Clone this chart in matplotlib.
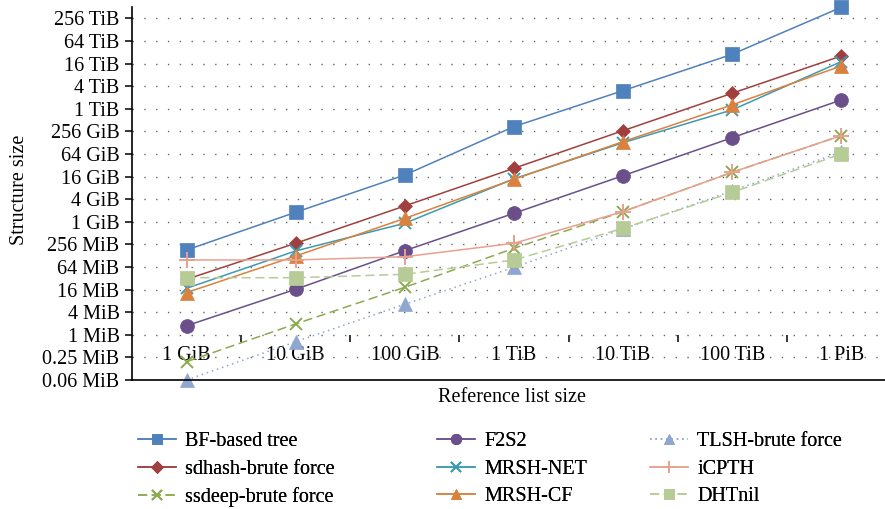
import numpy as np
import matplotlib
matplotlib.use('Agg')
from matplotlib import pyplot as plt
from matplotlib.ticker import FixedLocator, FixedFormatter

plt.rcParams['font.family'] = ['Liberation Serif', 'DejaVu Serif']
plt.rcParams['font.size'] = 14.5

# reference list sizes (categories)
sizes = ['1 GiB', '10 GiB', '100 GiB', '1 TiB', '10 TiB', '100 TiB', '1 PiB']

# structure size in MiB
bf_tree = [181, 1833, 18060, 350700, 3.18e6, 2.96e7, 5.29e8]
sdhash = [30.1, 274, 2702, 27180, 273300, 2.71e6, 2.67e7]
ssdeep = [0.192, 1.95, 18.4, 201, 1911, 21320, 201500]
f2s2 = [1.74, 16.3, 174, 1722, 17300, 177800, 1.8e6]
mrsh_net = [17.3, 171, 936, 14260, 131072, 978000, 1.89e7]
mrsh_cf = [13.3, 125.4, 1261, 13870, 139500, 1.33e6, 1.45e7]
tlsh = [0.0625, 0.655, 6.5, 62.7, 657, 6790, 74300]
icpth = [98.4, 98.4, 120, 274, 1911, 21320, 201500]
dhtnil = [33.1, 33.1, 40.8, 98.4, 685, 6208, 65536]

ytick_labels = ['0.06 MiB', '0.25 MiB', '1 MiB', '4 MiB', '16 MiB', '64 MiB', '256 MiB',
                '1 GiB', '4 GiB', '16 GiB', '64 GiB', '256 GiB',
                '1 TiB', '4 TiB', '16 TiB', '64 TiB', '256 TiB']

series = [
    ('BF-based tree', bf_tree, '#4F81BD', 's', '-', 9.5),
    ('sdhash-brute force', sdhash, '#A0403E', 'D', '-', 7.5),
    ('ssdeep-brute force', ssdeep, '#8CAA50', 'x', (0, (6, 3)), 9),
    ('F2S2', f2s2, '#6A4F8B', 'o', '-', 10),
    ('MRSH-NET', mrsh_net, '#3E9AB0', 'x', '-', 9),
    ('MRSH-CF', mrsh_cf, '#D9813D', '^', '-', 10),
    ('TLSH-brute force', tlsh, '#8EA6D0', '^', (0, (1, 2.5)), 10),
    ('iCPTH', icpth, '#E8A090', '+', '-', 12),
    ('DHTnil', dhtnil, '#B6CB96', 's', (0, (6, 3)), 10),
]

fig = plt.figure(figsize=(8.85, 5.09), dpi=100)
ax = fig.add_axes([132 / 885, (509 - 380) / 509, 753 / 885, 373 / 509])

x = np.arange(len(sizes))
handles = []
for name, vals, col, mk, ls, ms in series:
    h, = ax.plot(x, vals, color=col, marker=mk, linestyle=ls, lw=1.1, markersize=ms,
                 markeredgewidth=1.4 if mk in ('x', '+') else 0.5,
                 markeredgecolor=col, label=name, clip_on=False)
    handles.append(h)

ax.set_yscale('log', base=2)
ax.set_ylim(2 ** -4, 2 ** 29)
yticks = [2.0 ** k for k in range(-4, 29, 2)]
ax.yaxis.set_major_locator(FixedLocator(yticks))
ax.yaxis.set_major_formatter(FixedFormatter(ytick_labels))
ax.yaxis.set_minor_locator(FixedLocator([]))
ax.tick_params(axis='y', direction='out', length=5, width=1.1, pad=4)
ax.yaxis.grid(True, color='#666666', lw=1.0, linestyle=(0, (1, 7.5)))

ax.set_xlim(-0.5, 6.4)
ax.set_xticks(x)
ax.set_xticklabels(sizes)
ax.set_xticks(x[:-1] + 0.5, minor=True)
ax.tick_params(axis='x', which='major', length=0, pad=8)
ax.tick_params(axis='x', which='minor', direction='out', length=5, width=1.1)

# horizontal axis crosses at 1 MiB, line itself hidden
ax.spines['bottom'].set_position(('data', 1))
ax.spines['bottom'].set_color('none')
ax.spines['top'].set_visible(False)
ax.spines['right'].set_visible(False)
ax.spines['left'].set_linewidth(1.2)
ax.axhline(2 ** -4, color='black', lw=1.2, clip_on=False, zorder=5)

fig.text(20 / 885, 1 - 190 / 509, 'Structure size', rotation=90, ha='center', va='center')
fig.text(512 / 885, 1 - 398 / 509, 'Reference list size', ha='center', va='center')

# three legend columns placed like the original
col_x = [138, 437, 650]
for i, cx in enumerate(col_x):
    leg = fig.legend(handles=handles[3 * i:3 * i + 3], loc='upper left',
                     bbox_to_anchor=(cx / 885, 1 - 432 / 509), ncol=1,
                     frameon=False, handlelength=1.9, handletextpad=0.45,
                     labelspacing=0.42, borderaxespad=0, borderpad=0, markerscale=0.75)
    fig.add_artist(leg)

fig.savefig('out.png', dpi=100)
